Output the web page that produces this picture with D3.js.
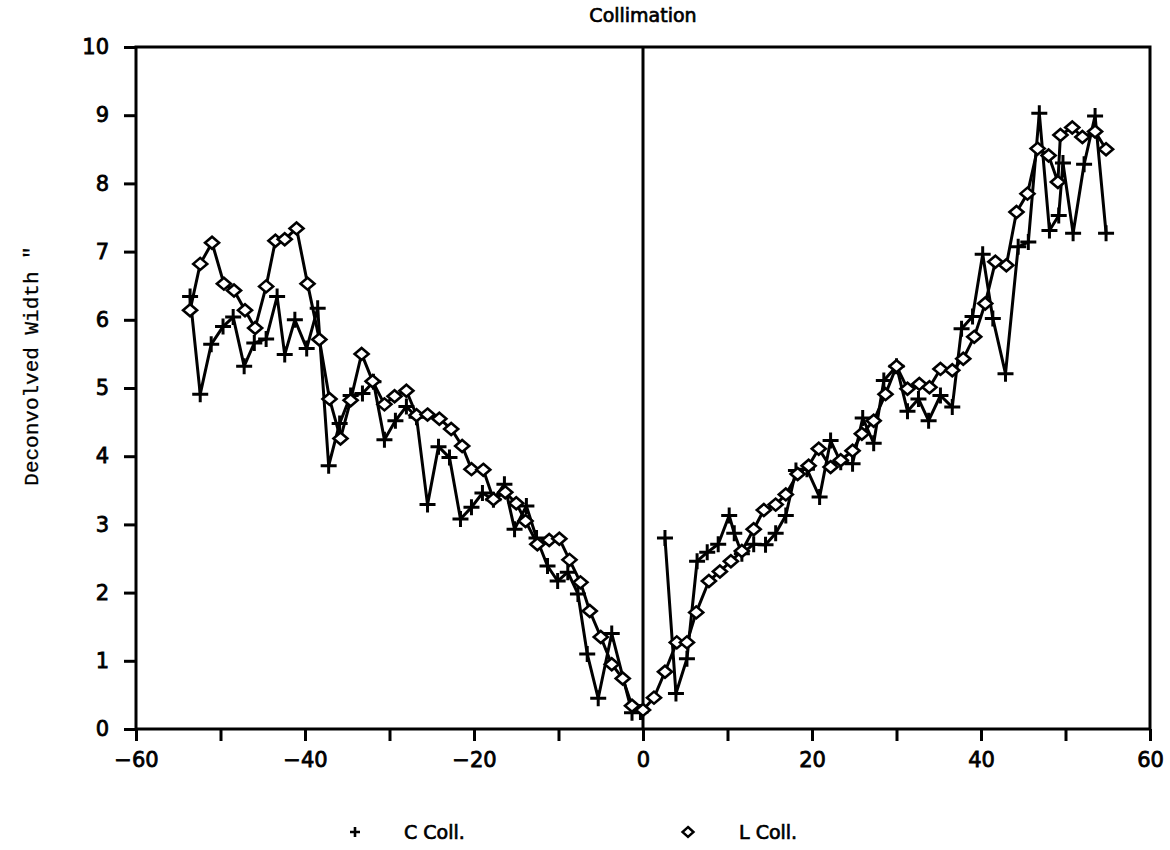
<!DOCTYPE html>
<html>
<head>
<meta charset="utf-8">
<script src="https://cdn.jsdelivr.net/npm/d3@7"></script>
<style>
  body { margin: 0; background: #fff; }
  text { fill: #000; }
</style>
</head>
<body>
<div class="chart"></div>
<script>
// C Coll. (plus markers), left and right branches drawn separately
const cLeft = [
  [-53.6, 6.34], [-52.4, 4.91], [-51.1, 5.64], [-49.7, 5.90], [-48.5, 6.04],
  [-47.2, 5.32], [-46.0, 5.66], [-44.6, 5.72], [-43.3, 6.34], [-42.4, 5.49],
  [-41.2, 6.00], [-39.8, 5.58], [-38.5, 6.17], [-37.2, 3.86], [-35.9, 4.48],
  [-34.6, 4.89], [-33.2, 4.92], [-31.9, 5.09], [-30.6, 4.24], [-29.3, 4.52],
  [-28.0, 4.73], [-26.8, 4.57], [-25.5, 3.29], [-24.2, 4.14], [-22.9, 3.98],
  [-21.6, 3.08], [-20.3, 3.25], [-19.0, 3.46], [-17.7, 3.36], [-16.4, 3.59],
  [-15.2, 2.93], [-13.8, 3.27], [-12.6, 2.80], [-11.3, 2.39], [-10.1, 2.17],
  [-8.9, 2.30], [-7.7, 1.98], [-6.6, 1.10], [-5.3, 0.45], [-3.7, 1.40],
  [-1.3, 0.24], [-0.3, 0.25]
];
const cRight = [
  [2.6, 2.80], [3.9, 0.52], [5.2, 1.03], [6.4, 2.46], [7.6, 2.59],
  [8.9, 2.71], [10.2, 3.13], [10.8, 2.87], [11.7, 2.57], [13.1, 2.71],
  [14.5, 2.70], [15.7, 2.87], [16.9, 3.13], [18.1, 3.79], [19.4, 3.81],
  [20.9, 3.40], [22.2, 4.23], [23.4, 3.91], [24.8, 3.89], [26.0, 4.56],
  [27.3, 4.19], [28.5, 5.11], [30.0, 5.32], [31.3, 4.66], [32.6, 4.84],
  [33.8, 4.52], [35.2, 4.89], [36.6, 4.72], [37.7, 5.87], [39.0, 6.05],
  [40.2, 6.96], [41.4, 6.02], [42.9, 5.21], [44.4, 7.07], [45.6, 7.14],
  [46.9, 9.03], [48.1, 7.31], [49.2, 7.53], [49.7, 8.30], [50.9, 7.27],
  [52.2, 8.28], [53.5, 8.99], [54.8, 7.27]
];
// L Coll. (diamond markers), one continuous line
const lColl = [
  [-53.6, 6.14], [-52.4, 6.82], [-51.0, 7.13], [-49.6, 6.53], [-48.4, 6.43],
  [-47.1, 6.14], [-45.9, 5.88], [-44.6, 6.49], [-43.5, 7.16], [-42.4, 7.18],
  [-41.0, 7.34], [-39.7, 6.53], [-38.3, 5.71], [-37.1, 4.84], [-35.8, 4.26],
  [-34.6, 4.82], [-33.3, 5.50], [-32.0, 5.10], [-30.6, 4.76], [-29.4, 4.88],
  [-28.0, 4.96], [-26.8, 4.60], [-25.5, 4.61], [-24.1, 4.55], [-22.7, 4.40],
  [-21.4, 4.15], [-20.3, 3.81], [-18.9, 3.80], [-17.7, 3.37], [-16.3, 3.47],
  [-15.0, 3.31], [-13.9, 3.05], [-12.5, 2.71], [-11.1, 2.77], [-9.9, 2.79],
  [-8.7, 2.48], [-7.4, 2.15], [-6.3, 1.73], [-5.0, 1.35], [-3.7, 0.95],
  [-2.4, 0.74], [-1.3, 0.34], [0.0, 0.28], [1.3, 0.46], [2.6, 0.84],
  [4.0, 1.27], [5.2, 1.27], [6.3, 1.71], [7.8, 2.17], [9.1, 2.31],
  [10.4, 2.46], [11.7, 2.61], [13.1, 2.93], [14.3, 3.21], [15.7, 3.29],
  [16.9, 3.44], [18.3, 3.74], [19.6, 3.86], [20.8, 4.11], [22.2, 3.84],
  [23.4, 3.94], [24.8, 4.08], [25.9, 4.33], [27.3, 4.52], [28.7, 4.91],
  [30.0, 5.32], [31.3, 4.99], [32.7, 5.06], [33.9, 5.01], [35.2, 5.28],
  [36.6, 5.26], [37.9, 5.43], [39.2, 5.75], [40.5, 6.24], [41.7, 6.85],
  [43.0, 6.80], [44.2, 7.58], [45.5, 7.85], [46.7, 8.51], [48.0, 8.41],
  [49.1, 8.02], [49.4, 8.71], [50.8, 8.82], [52.0, 8.68], [53.5, 8.76],
  [54.8, 8.50]
];
const xTicks = [-60, -50, -40, -30, -20, -10, 0, 10, 20, 30, 40, 50, 60];
const xLabels = [-60, -40, -20, 0, 20, 40, 60];
const yTicks = [0, 1, 2, 3, 4, 5, 6, 7, 8, 9, 10];

let dims = { width: 1170, height: 850 };
const plot = { left: 136, right: 1150, top: 47, bottom: 729 };
const font = "'DejaVu Sans', Lato, sans-serif";

let svg = d3.select(".chart").append("svg")
  .attr("width", dims.width)
  .attr("height", dims.height);

const x = d3.scaleLinear().domain([-60, 60]).range([plot.left, plot.right]);
const y = d3.scaleLinear().domain([0, 10]).range([plot.bottom, plot.top]);

// frame
svg.append("rect")
  .attr("x", plot.left).attr("y", plot.top)
  .attr("width", plot.right - plot.left).attr("height", plot.bottom - plot.top)
  .attr("fill", "none").attr("stroke", "#000").attr("stroke-width", 3);

// zero line
svg.append("line")
  .attr("x1", x(0)).attr("x2", x(0))
  .attr("y1", plot.top).attr("y2", plot.bottom)
  .attr("stroke", "#000").attr("stroke-width", 3);

// x axis
let xAxis = svg.append("g")
  .attr("transform", `translate(0, ${plot.bottom})`)
  .call(d3.axisBottom(x).tickValues(xTicks).tickSize(12).tickPadding(11)
    .tickFormat(d => xLabels.includes(d) ? (d < 0 ? "\u2212" + (-d) : d) : ""));
xAxis.select(".domain").remove();
xAxis.selectAll("line").attr("stroke-width", 3);
xAxis.selectAll("text").style("font-family", font).style("font-size", "21px")
  .style("stroke", "#000").style("stroke-width", 0.8);

// y axis
let yAxis = svg.append("g")
  .attr("transform", `translate(${plot.left}, 0)`)
  .call(d3.axisLeft(y).tickValues(yTicks).tickSize(12).tickPadding(15));
yAxis.select(".domain").remove();
yAxis.selectAll("line").attr("stroke-width", 3);
yAxis.selectAll("text").style("font-family", font).style("font-size", "21px")
  .style("stroke", "#000").style("stroke-width", 0.8);

// title
svg.append("text")
  .attr("x", x(0)).attr("y", 22)
  .attr("text-anchor", "middle")
  .style("font-family", font).style("font-size", "19px")
  .style("stroke", "#000").style("stroke-width", 0.7)
  .text("Collimation");

// y label
svg.append("text")
  .attr("transform", `translate(38, 366) rotate(-90)`)
  .attr("text-anchor", "middle")
  .style("font-family", "'Liberation Mono', 'DejaVu Sans Mono', monospace")
  .style("font-size", "21px")
  .style("stroke", "#000").style("stroke-width", 0.3)
  .text("Deconvolved Width \"");

const line = d3.line().x(d => x(d[0])).y(d => y(d[1]));

let lines = svg.append("g").attr("fill", "none").attr("stroke", "#000")
  .attr("stroke-width", 3).attr("stroke-linejoin", "round");
lines.append("path").attr("d", line(cLeft));
lines.append("path").attr("d", line(cRight));
lines.append("path").attr("d", line(lColl));

const plusPath = "M-8,0H8M0,-8V8";
const diamondPath = "M0,-6L7,0L0,6L-7,0Z";

svg.append("g").selectAll("path")
  .data(cLeft.concat(cRight))
  .join("path")
  .attr("transform", d => `translate(${x(d[0])}, ${y(d[1])})`)
  .attr("d", plusPath)
  .attr("stroke", "#000").attr("stroke-width", 3).attr("fill", "none");

svg.append("g").selectAll("path")
  .data(lColl)
  .join("path")
  .attr("transform", d => `translate(${x(d[0])}, ${y(d[1])})`)
  .attr("d", diamondPath)
  .attr("stroke", "#000").attr("stroke-width", 2.6).attr("fill", "#fff");

// legend
let legend = svg.append("g").style("font-family", font).style("font-size", "19px")
  .style("stroke-width", 0.7);
legend.append("path").attr("transform", "translate(355, 832)")
  .attr("d", "M-5,0H5M0,-5V5").attr("stroke", "#000").attr("stroke-width", 2.6);
legend.append("text").attr("x", 404).attr("y", 839).style("stroke", "#000")
  .text("C  Coll.");
legend.append("path").attr("transform", "translate(688, 832)")
  .attr("d", "M0,-5L5.5,0L0,5L-5.5,0Z").attr("stroke", "#000")
  .attr("stroke-width", 2.4).attr("fill", "#fff");
legend.append("text").attr("x", 739).attr("y", 839).style("stroke", "#000")
  .text("L  Coll.");
</script>
</body>
</html>
